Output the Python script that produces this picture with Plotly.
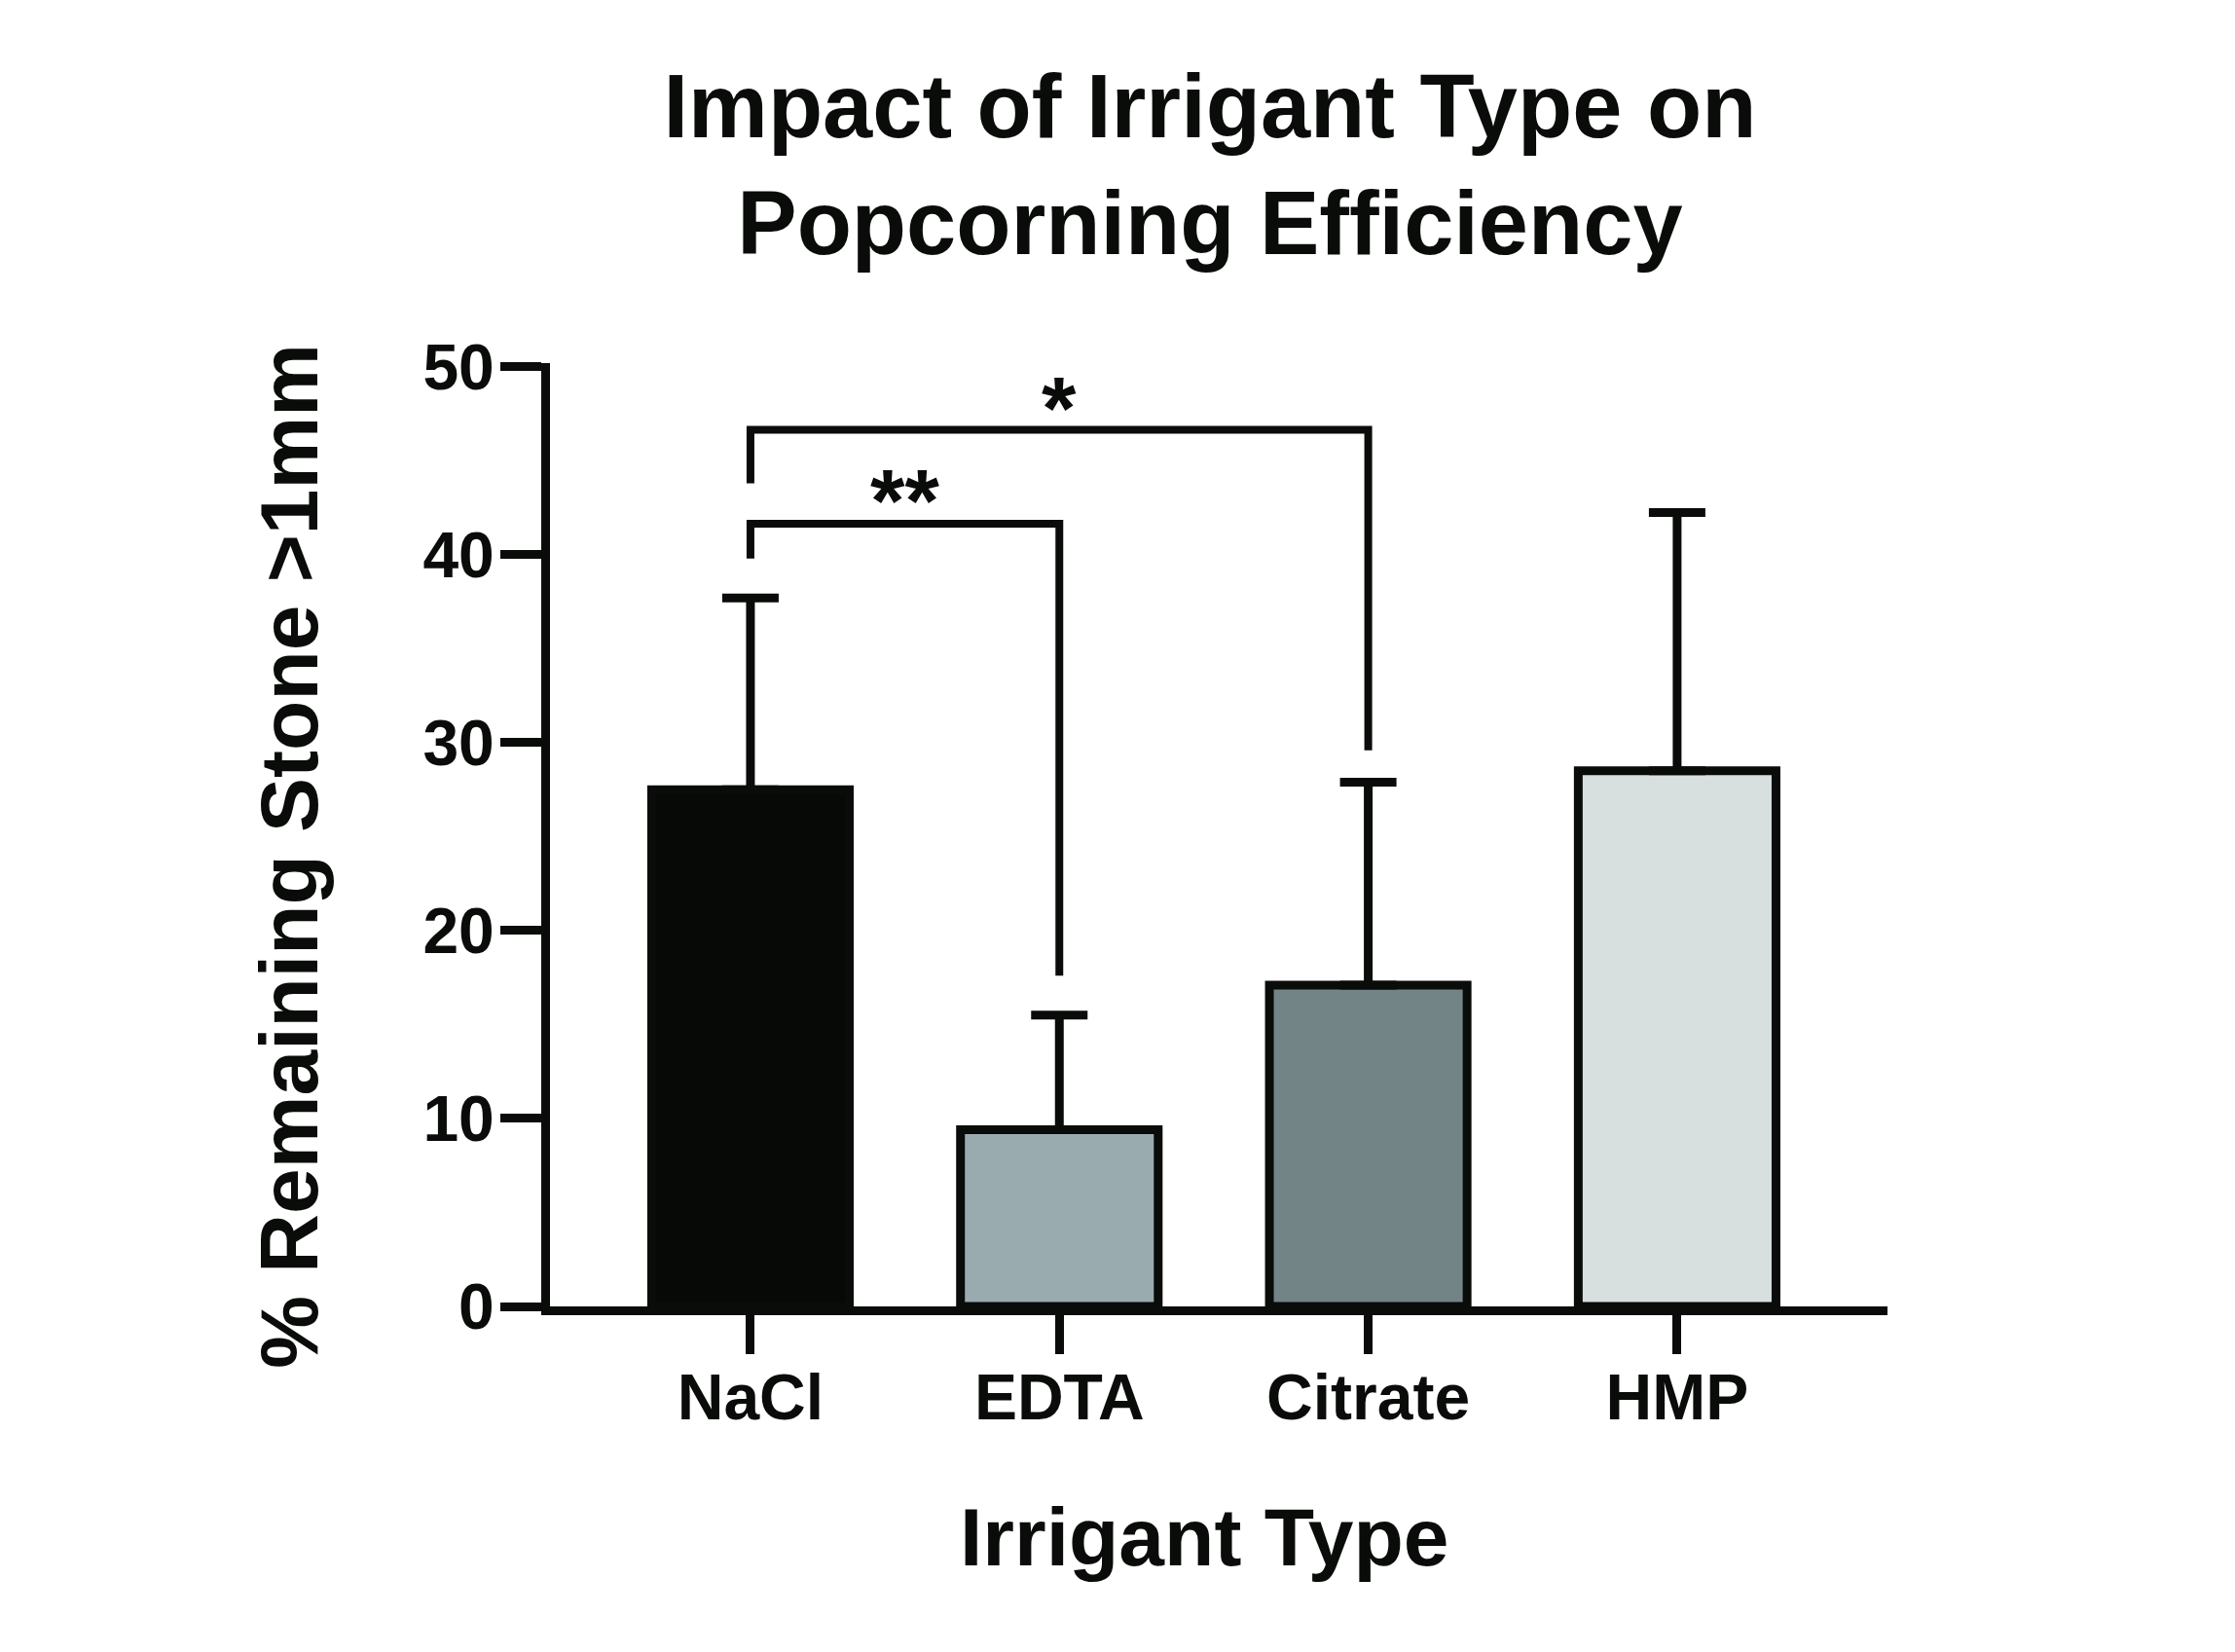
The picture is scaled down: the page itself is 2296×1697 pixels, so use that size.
import plotly.graph_objects as go

# ---- data ----
categories = ["NaCl", "EDTA", "Citrate", "HMP"]
means = [27.5, 9.4, 17.1, 28.5]
errors_up = [10.2, 6.1, 10.8, 13.75]
bar_colors = ["#070907", "#9aabb0", "#738487", "#d8e0df"]
y_ticks = [0, 10, 20, 30, 40, 50]

# significance brackets
bracket_left = ["NaCl", "NaCl"]
bracket_right = ["EDTA", "Citrate"]
bracket_left_end = [39.8, 43.8]
bracket_top = [41.65, 46.65]
bracket_right_end = [17.6, 29.6]
bracket_labels = ["**", "*"]
bracket_label_y = [42.85, 47.8]
bracket_label_x = [0.5, 1.0]

title_text = "Impact of Irrigant Type on<br>Popcorning Efficiency"
x_title = "Irrigant Type"
y_title = "% Remaining Stone >1mm"

INK = "#0a0c0a"
FONT = "Liberation Sans, Arial, Helvetica, sans-serif"

fig = go.Figure()

fig.add_trace(go.Bar(
    x=categories,
    y=means,
    width=0.64,
    marker=dict(color=bar_colors, line=dict(color=INK, width=9)),
    error_y=dict(type="data", symmetric=False, array=errors_up,
                 arrayminus=[0] * len(means), thickness=9, width=29, color=INK),
    showlegend=False,
    hoverinfo="skip",
))

for i in range(len(bracket_labels)):
    fig.add_trace(go.Scatter(
        x=[bracket_left[i], bracket_left[i], bracket_right[i], bracket_right[i]],
        y=[bracket_left_end[i], bracket_top[i], bracket_top[i], bracket_right_end[i]],
        mode="lines",
        line=dict(color=INK, width=8),
        showlegend=False,
        hoverinfo="skip",
    ))
    fig.add_annotation(
        x=bracket_label_x[i], y=bracket_label_y[i], xref="x", yref="y",
        text=bracket_labels[i], showarrow=False,
        xanchor="center", yanchor="middle",
        font=dict(family=FONT, size=91, color=INK, weight="bold"),
    )

# axis titles as annotations
fig.add_annotation(
    x=-0.195, y=0.4772, xref="paper", yref="paper",
    text=y_title, textangle=-90, showarrow=False,
    xanchor="center", yanchor="middle",
    font=dict(family=FONT, size=84, color=INK, weight="bold"),
)
fig.add_annotation(
    x=0.4898, y=-0.2443, xref="paper", yref="paper",
    text=x_title, showarrow=False,
    xanchor="center", yanchor="middle",
    font=dict(family=FONT, size=84, color=INK, weight="bold"),
)

fig.update_layout(
    width=2296, height=1697,
    margin=dict(l=557, r=365, t=365, b=363, pad=0),
    paper_bgcolor="white", plot_bgcolor="white",
    title=dict(text=title_text, x=0.4934, xref="paper", xanchor="center",
               y=0.9216, yref="container", yanchor="top",
               font=dict(family=FONT, size=92, color=INK, weight="bold")),
    font=dict(family=FONT, color=INK),
)

fig.update_xaxes(
    type="category", range=[-0.649, 3.681],
    showline=True, linewidth=9, linecolor=INK,
    ticks="outside", ticklen=40, tickwidth=9, tickcolor=INK,
    ticklabelstandoff=-12,
    showgrid=False, zeroline=False,
    tickfont=dict(family=FONT, size=66, color=INK, weight="bold"),
)
fig.update_yaxes(
    range=[0, 50.2], tickvals=y_ticks,
    showline=True, linewidth=9, linecolor=INK,
    ticks="outside", ticklen=42, tickwidth=9, tickcolor=INK,
    ticklabelstandoff=-7,
    showgrid=False, zeroline=False,
    tickfont=dict(family=FONT, size=66, color=INK, weight="bold"),
)

fig.write_html("out.html")
